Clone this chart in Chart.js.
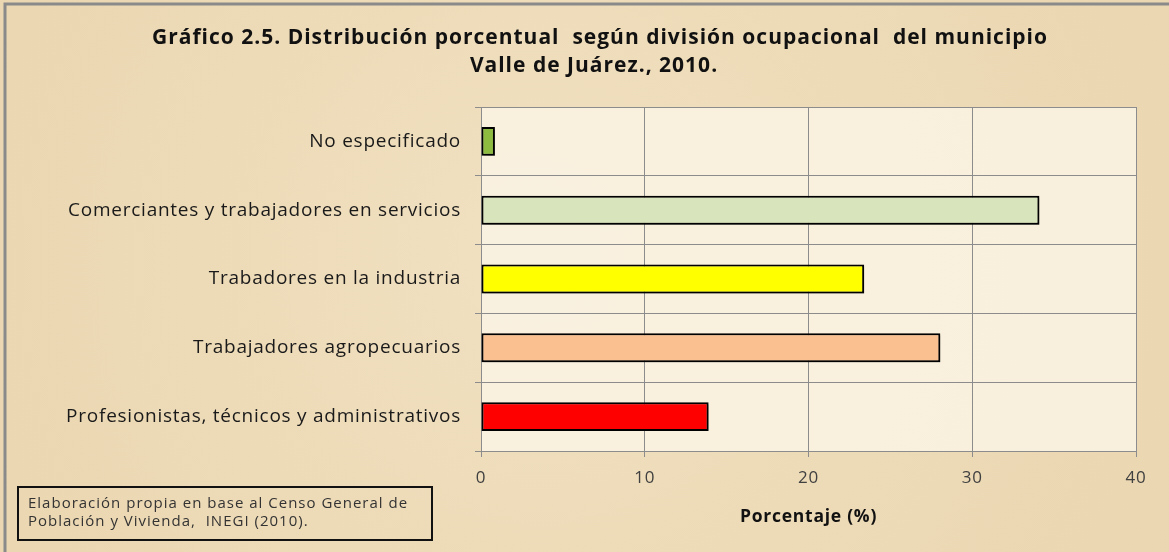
<!DOCTYPE html>
<html>
<head>
<meta charset="utf-8">
<script src="https://cdn.jsdelivr.net/npm/chart.js@4.4.1/dist/chart.umd.min.js"></script>
<style>
html,body{margin:0;padding:0;background:#ecd9b4;}
#wrap{width:1169px;height:552px;position:relative;}
</style>
</head>
<body>
<div id="wrap"><canvas id="c" width="1169" height="552"></canvas></div>
<script>
const categories = [
  "No especificado",
  "Comerciantes y trabajadores en servicios",
  "Trabadores en la industria",
  "Trabajadores agropecuarios",
  "Profesionistas, técnicos y administrativos"
];
const values = [0.85, 34.1, 23.4, 28.05, 13.9];
const barColors = ["#8dbb3f", "#d8e4bc", "#ffff00", "#fac090", "#ff0000"];
const xTicks = [0, 10, 20, 30, 40];
const titleLines = [
  "Gráfico 2.5. Distribución porcentual  según división ocupacional  del municipio",
  "Valle de Juárez., 2010."
];
const xTitle = "Porcentaje (%)";
const noteLines = [
  "Elaboración propia en base al Censo General de",
  "Población y Vivienda,  INEGI (2010)."
];

const FONT = "'Open Sans', sans-serif";
const SPACING = '0.75px';

function setSpacing(chart) {
  if ('letterSpacing' in chart.ctx) chart.ctx.letterSpacing = SPACING;
}

const bgPlugin = {
  id: 'bg',
  beforeInit: setSpacing,
  beforeUpdate: setSpacing,
  beforeLayout: setSpacing,
  beforeDraw(chart) {
    setSpacing(chart);
    const {ctx, width, height, chartArea: a} = chart;
    ctx.save();
    ctx.fillStyle = '#eddab6';
    ctx.fillRect(0, 0, width, height);
    const g = ctx.createRadialGradient(width*0.45, height*0.45, 50, width*0.5, height*0.5, 750);
    g.addColorStop(0, 'rgba(244,230,202,0.5)');
    g.addColorStop(1, 'rgba(228,205,162,0.3)');
    ctx.fillStyle = g;
    ctx.fillRect(0, 0, width, height);
    // outer grey border
    ctx.strokeStyle = '#8a8a8a';
    ctx.lineWidth = 3;
    ctx.beginPath();
    ctx.moveTo(5, height);
    ctx.lineTo(5, 4);
    ctx.lineTo(width, 4);
    ctx.stroke();
    // plot area
    ctx.fillStyle = 'rgba(250,243,228,0.85)';
    ctx.fillRect(a.left, a.top, a.right - a.left, a.bottom - a.top);
    // title
    ctx.fillStyle = '#111';
    ctx.font = "bold 21px " + FONT;
    if ('letterSpacing' in ctx) ctx.letterSpacing = '1px';
    ctx.textAlign = 'center';
    ctx.textBaseline = 'middle';
    ctx.fillText(titleLines[0], 600, 38);
    ctx.fillText(titleLines[1], 594, 66);
    ctx.restore();
  },
  afterDraw(chart) {
    const {ctx} = chart;
    ctx.save();
    ctx.strokeStyle = '#111';
    ctx.lineWidth = 2;
    ctx.strokeRect(18, 487, 414, 53);
    ctx.fillStyle = '#333';
    ctx.font = "15px " + FONT;
    if ('letterSpacing' in ctx) ctx.letterSpacing = '1px';
    ctx.textBaseline = 'middle';
    ctx.textAlign = 'left';
    ctx.fillText(noteLines[0], 28, 504);
    ctx.fillText(noteLines[1], 28, 522);
    ctx.restore();
  },
  beforeDatasetsDraw(chart) {
    const ctx = chart.ctx;
    ctx.save();
    ctx.shadowColor = 'rgba(0,0,0,0.45)';
    ctx.shadowOffsetX = 2;
    ctx.shadowOffsetY = 2;
    ctx.shadowBlur = 3;
  },
  afterDatasetsDraw(chart) {
    chart.ctx.restore();
  }
};

new Chart(document.getElementById('c'), {
  type: 'bar',
  data: {
    labels: categories,
    datasets: [{
      data: values,
      backgroundColor: barColors,
      borderColor: '#000',
      borderWidth: 2,
      borderSkipped: false,
      barPercentage: 0.42,
      categoryPercentage: 1
    }]
  },
  options: {
    indexAxis: 'y',
    responsive: false,
    animation: false,
    layout: {padding: {left: 0, right: 33, top: 107, bottom: 0}},
    plugins: {
      legend: {display: false},
      tooltip: {enabled: false},
      title: {display: false}
    },
    scales: {
      x: {
        min: 0, max: 40,
        afterBuildTicks(scale) { scale.ticks = xTicks.map(v => ({value: v})); },
        afterFit(scale) { scale.height = 101; },
        grid: {color: '#8c8c8c', lineWidth: 1, tickLength: 6},
        border: {color: '#8c8c8c'},
        ticks: {color: '#404040', font: {family: FONT, size: 17}, padding: 11},
        title: {
          display: true, text: xTitle, color: '#111',
          font: {family: FONT, size: 17.5, weight: 'bold'},
          padding: {top: 0, bottom: 24}
        }
      },
      y: {
        afterFit(scale) { scale.width = 481; },
        grid: {color: '#8c8c8c', lineWidth: 1, tickLength: 6, offset: true},
        border: {color: '#8c8c8c'},
        ticks: {color: '#1a1a1a', font: {family: FONT, size: 19}, padding: 14}
      }
    }
  },
  plugins: [bgPlugin]
});
</script>
</body>
</html>
